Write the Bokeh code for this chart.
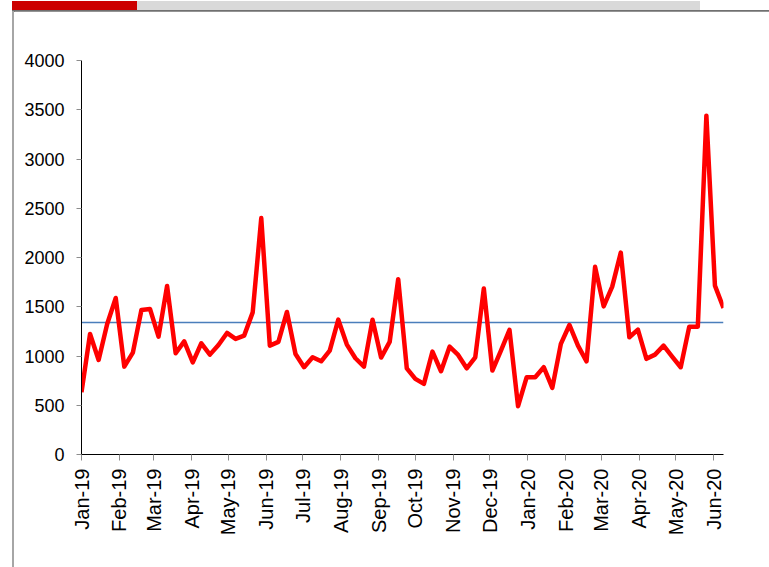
import math
import pandas as pd
from bokeh.plotting import figure
from bokeh.layouts import column, row
from bokeh.models import (Span, SingleIntervalTicker, MonthsTicker,
                          DatetimeTickFormatter, Range1d, Div)
from bokeh.embed import file_html
from bokeh.resources import INLINE

# ---- data (weekly values) ----
start_date = "2019-01-01"
weekly_values = [
    632, 1224, 960, 1325, 1589, 892, 1034, 1467, 1478, 1197,
    1711, 1028, 1149, 936, 1129, 1014, 1112, 1234, 1173, 1207,
    1443, 2400, 1105, 1143, 1447, 1021, 886, 987, 946, 1055,
    1369, 1116, 977, 892, 1369, 984, 1143, 1780, 875, 768,
    717, 1045, 845, 1095, 1011, 875, 987, 1685, 852, 1055,
    1265, 490, 784, 784, 886, 676, 1123, 1315, 1105, 946,
    1905, 1504, 1704, 2050, 1190, 1268, 971, 1014, 1105, 994,
    886, 1298, 1298, 3440, 1714, 1488,
]
benchmark = 1340
y_ticks_interval = 500
y_max = 4000

dates = pd.date_range(start_date, periods=len(weekly_values), freq="7D")
date_list = [d.to_pydatetime() for d in dates]

FONT = "Liberation Sans"

# ---- page decorations ----
def bar(l, t, w, h, c):
    return (f'<div style="position:absolute;left:{l}px;top:{t}px;width:{w}px;'
            f'height:{h}px;background:{c};"></div>')

top_html = (bar(12, 0, 125, 9, "#cc0000") + bar(137, 0, 563, 9, "#d9d9d9")
            + bar(12, 9, 757, 2, "#707070"))
top_div = Div(text=f'<div style="position:relative;width:769px;height:11px;">{top_html}</div>',
              width=769, height=11, margin=0)
left_div = Div(text=f'<div style="position:relative;width:14px;height:556px;">'
                    f'{bar(12, 0, 1.5, 556, "#a6a6a6")}</div>',
               width=14, height=556, margin=0)

# ---- main chart ----
p = figure(width=755, height=556, x_axis_type="datetime",
           x_range=Range1d(date_list[0], date_list[-1]), y_range=Range1d(0, y_max),
           toolbar_location=None, output_backend="svg",
           min_border_left=67, min_border_right=46, min_border_top=49, min_border_bottom=113)
p.outline_line_color = None
p.grid.visible = False
p.background_fill_color = "white"
p.border_fill_color = "white"

p.yaxis.ticker = SingleIntervalTicker(interval=y_ticks_interval, num_minor_ticks=0)
p.xaxis.ticker = MonthsTicker(months=list(range(12)))
fmt = "%b-%y"
p.xaxis.formatter = DatetimeTickFormatter(days=fmt, months=fmt, years=fmt, hours=fmt,
                                          minutes=fmt, seconds=fmt, milliseconds=fmt,
                                          microseconds=fmt, minsec=fmt, hourmin=fmt)
p.xaxis.major_label_orientation = math.pi / 2

for ax in (p.xaxis, p.yaxis):
    ax.axis_line_color = "black"
    ax.axis_line_width = 1
    ax.major_tick_line_color = "#8c8c8c"
    ax.major_tick_in = 0
    ax.minor_tick_line_color = None
    ax.major_label_text_font = FONT
    ax.major_label_text_color = "black"

p.yaxis.major_tick_out = 5
p.yaxis.major_label_standoff = 12
p.yaxis.major_label_text_font_size = "18px"
p.xaxis.major_tick_out = 6
p.xaxis.major_label_standoff = 8
p.xaxis.major_label_text_font_size = "20px"

span = Span(location=benchmark, dimension="width", line_color="#4a7ebb",
            line_width=1.5, level="underlay")
p.add_layout(span)

p.line(date_list, weekly_values, line_color="#ff0000", line_width=4.5, line_join="round")

layout = column(top_div, row(left_div, p, margin=0), margin=0)

open("out.html", "w").write(file_html(layout, INLINE))
